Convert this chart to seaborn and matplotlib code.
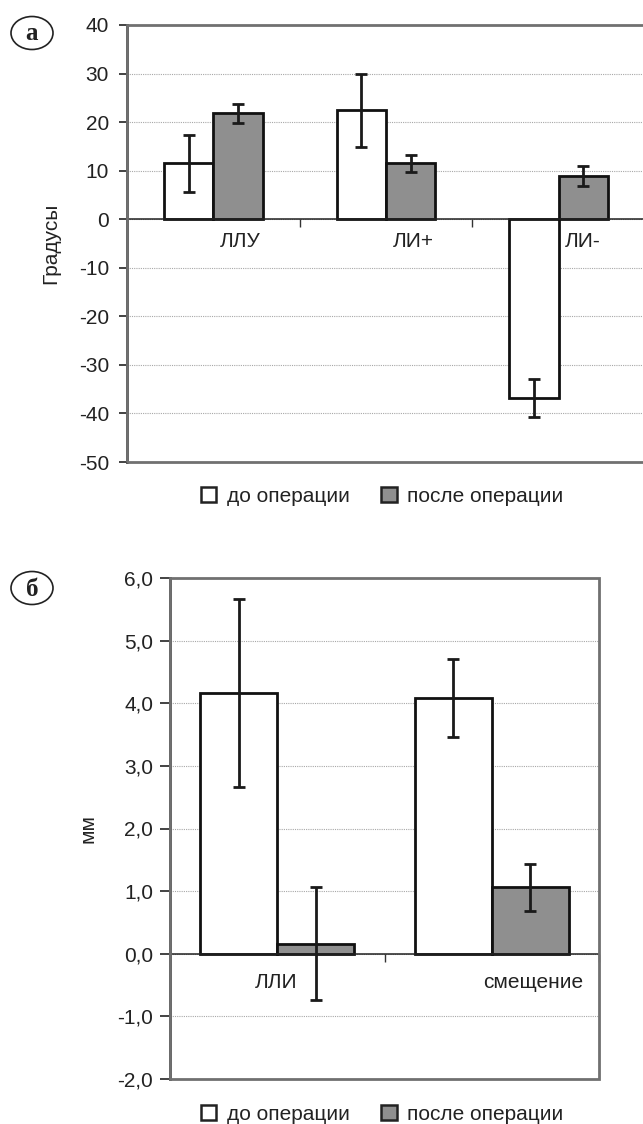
import numpy as np
import pandas as pd
import seaborn as sns
import matplotlib.pyplot as plt
from matplotlib.patches import Patch, Ellipse, Rectangle
from matplotlib.transforms import ScaledTranslation

sns.set_style('white')
plt.rcParams['font.family'] = ['Liberation Sans', 'DejaVu Sans']
plt.rcParams['axes.unicode_minus'] = False
plt.rcParams['text.color'] = '#222222'
plt.rcParams['axes.labelcolor'] = '#222222'
plt.rcParams['xtick.color'] = '#222222'
plt.rcParams['ytick.color'] = '#222222'

groups = ['до операции', 'после операции']
colors = ['white', '#8f8f8f']

# panel a: angles
angle_cats = ['ЛЛУ', 'ЛИ+', 'ЛИ-']
angle_before = [11.5, 22.4, -36.9]
angle_after = [21.8, 11.5, 8.9]
angle_err_before = [5.9, 7.6, 3.9]
angle_err_after = [2.0, 1.7, 2.0]

# panel b: millimetres
shift_cats = ['ЛЛИ', 'смещение']
shift_before = [4.17, 4.08]
shift_after = [0.16, 1.06]
shift_err_before = [1.50, 0.62]
shift_err_after = [0.90, 0.37]

FS = 15


def draw_panel(ax, cats, before, after, err_b, err_a, width, ylim, yticks,
               ylabel, label_dx, label_dy, ylabel_x, tick_len, tick_pad, comma):
    n = len(cats)
    df = pd.DataFrame({'cat': cats * 2,
                       'grp': [groups[0]] * n + [groups[1]] * n,
                       'val': before + after})
    sns.barplot(data=df, x='cat', y='val', hue='grp', order=cats, hue_order=groups,
                palette=colors, saturation=1, edgecolor='#111111', linewidth=2,
                width=width, errorbar=None, legend=False, ax=ax, zorder=2)

    for cont, vals, errs in zip(ax.containers, [before, after], [err_b, err_a]):
        xs = [p.get_x() + p.get_width() / 2 for p in cont]
        ax.errorbar(xs, vals, yerr=errs, fmt='none', ecolor='#1a1a1a',
                    elinewidth=2, capsize=4.5, capthick=2, zorder=4)

    ax.set_xlim(-0.5, n - 0.5)
    ax.set_ylim(*ylim)
    ax.set_yticks(yticks)
    if comma:
        ax.set_yticklabels([f'{v:.1f}'.replace('.', ',') for v in yticks])
    ax.tick_params(axis='y', which='major', left=True, length=tick_len, width=1.2,
                   pad=tick_pad, labelsize=FS, direction='out')

    # category boundaries as short ticks on the zero line
    ax.set_xticks(np.arange(n + 1) - 0.5, [''] * (n + 1))
    ax.tick_params(axis='x', which='major', bottom=True, length=6, width=1,
                   direction='out', color='#333333')
    # category names below the zero line
    fig = ax.figure
    for i, (name, dx) in enumerate(zip(cats, label_dx)):
        tr = ax.transData + ScaledTranslation(dx / 72, label_dy / 72, fig.dpi_scale_trans)
        ax.text(i, 0, name, transform=tr, ha='center', va='center', fontsize=FS, zorder=6)

    ax.set_xlabel('')
    ax.set_ylabel(ylabel, fontsize=FS)
    ax.yaxis.set_label_coords(ylabel_x, 0.5)

    ax.yaxis.grid(True, ls=(0, (1, 1)), color='#a8a8a8', lw=0.8)
    ax.set_axisbelow(True)

    ax.spines['bottom'].set_position(('data', 0))
    ax.spines['bottom'].set_color('#222222')
    ax.spines['bottom'].set_linewidth(1.1)
    ax.spines['bottom'].set_zorder(3)
    for s in ['top', 'right']:
        ax.spines[s].set_visible(False)
    ax.spines['left'].set_color('#333333')
    ax.spines['left'].set_linewidth(2)
    ax.add_patch(Rectangle((0, 0), 1, 1, transform=ax.transAxes, fill=False,
                           ec='#707070', lw=2, clip_on=False, zorder=5))

    handles = [Patch(facecolor=c, edgecolor='#222222', lw=1.8) for c in colors]
    return handles


fig = plt.figure(figsize=(6.43, 11.24), dpi=100)
ax_a = fig.add_axes([127 / 643, 1 - 462 / 1124, 518 / 643, 437 / 1124])
ax_b = fig.add_axes([170 / 643, 1 - 1079 / 1124, 429 / 643, 501 / 1124])

h = draw_panel(ax_a, angle_cats, angle_before, angle_after, angle_err_before,
               angle_err_after, 0.57, (-50, 40), list(range(-50, 41, 10)),
               'Градусы', [19.4, 19.4, 17.3], -15.8, -0.129, 6, 7, False)
draw_panel(ax_b, shift_cats, shift_before, shift_after, shift_err_before,
           shift_err_after, 0.72, (-2, 6), [-2.0, -1.0, 0.0, 1.0, 2.0, 3.0, 4.0, 5.0, 6.0],
           'мм', [-0.7, 29.5], -20.9, -0.170, 7, 5, True)

for ax, ycen in [(ax_a, 496), (ax_b, 1114)]:
    ax.legend(h, groups, loc='center', bbox_to_anchor=(382 / 643, 1 - ycen / 1124),
              bbox_transform=fig.transFigure, ncol=2, frameon=False, fontsize=FS,
              handlelength=0.75, handleheight=0.75, handletextpad=0.5, columnspacing=1.5)

for txt, ycen in [('а', 33), ('б', 588)]:
    fig.add_artist(Ellipse((32 / 643, 1 - ycen / 1124), 42 / 643, 33 / 1124,
                           transform=fig.transFigure, fill=False, ec='#222222', lw=1.2))
    fig.text(32 / 643, 1 - (ycen + 1) / 1124, txt, ha='center', va='center',
             fontsize=18, fontweight='bold', family=['Liberation Serif', 'DejaVu Serif'])

fig.savefig('out.png', dpi=100)
